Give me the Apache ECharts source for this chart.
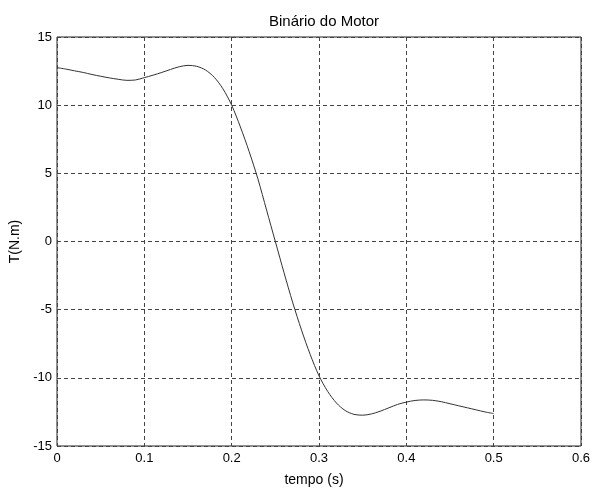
<!DOCTYPE html>
<html>
<head>
<meta charset="utf-8">
<script src="https://cdn.jsdelivr.net/npm/echarts@6/dist/echarts.min.js"></script>
<style>
  html, body { margin: 0; padding: 0; background: #fff; }
  #chart { width: 593px; height: 488px; }
</style>
</head>
<body>
<div id="chart"></div>
<script>
// Motor torque over time
const tempo = [0.00, 0.01, 0.02, 0.03, 0.04, 0.05, 0.06, 0.07, 0.08, 0.09,
               0.10, 0.11, 0.12, 0.13, 0.14, 0.15, 0.16, 0.17, 0.18, 0.19,
               0.20, 0.21, 0.22, 0.23, 0.24, 0.25, 0.26, 0.27, 0.28, 0.29,
               0.30, 0.31, 0.32, 0.33, 0.34, 0.35, 0.36, 0.37, 0.38, 0.39,
               0.40, 0.41, 0.42, 0.43, 0.44, 0.45, 0.46, 0.47, 0.48, 0.49, 0.50];
const binario = [12.75, 12.65, 12.52, 12.40, 12.25, 12.12, 12.00, 11.90, 11.82, 11.85,
                 12.02, 12.20, 12.40, 12.62, 12.82, 12.92, 12.85, 12.58, 12.05, 11.20,
                 10.00, 8.40, 6.60, 4.60, 2.30, 0.00, -2.30, -4.50, -6.50, -8.30,
                 -9.85, -11.00, -11.85, -12.40, -12.68, -12.74, -12.65, -12.45, -12.20, -11.95,
                 -11.78, -11.66, -11.62, -11.65, -11.75, -11.90, -12.05, -12.20, -12.35, -12.50, -12.62];

const xTicks = [0, 0.1, 0.2, 0.3, 0.4, 0.5, 0.6];
const yTicks = [-15, -10, -5, 0, 5, 10, 15];

const chart = echarts.init(document.getElementById('chart'), null, { renderer: 'canvas' });
const font = 'Liberation Sans, Arial, sans-serif';
const gridLine = { show: true, lineStyle: { color: '#444', type: [4, 3], width: 1 } };

chart.setOption({
  animation: false,
  backgroundColor: '#fff',
  title: {
    text: 'Binário do Motor',
    left: 319, top: 9, textAlign: 'center',
    textStyle: { fontFamily: font, fontSize: 15, fontWeight: 'normal', color: '#000' }
  },
  grid: {
    left: 57, top: 37, right: 12, bottom: 42,
    outerBoundsMode: 'none', containLabel: false,
    show: true, borderColor: '#222', borderWidth: 1
  },
  xAxis: {
    type: 'value', min: 0, max: 0.6, interval: 0.1,
    name: 'tempo (s)', nameLocation: 'middle', nameGap: 27,
    nameTextStyle: { fontFamily: font, fontSize: 14, color: '#000', padding: [0, 10, 0, 0] },
    axisLine: { show: false },
    axisTick: { show: false },
    splitLine: gridLine,
    axisLabel: {
      fontFamily: font, fontSize: 13, color: '#000', margin: 6,
      formatter: v => { const t = xTicks.find(k => Math.abs(k - v) < 1e-9); return t === undefined ? '' : String(t); }
    }
  },
  yAxis: {
    type: 'value', min: -15, max: 15, interval: 5,
    name: 'T(N.m)', nameLocation: 'middle', nameGap: 33, nameRotate: 90,
    nameTextStyle: { fontFamily: font, fontSize: 14, color: '#000' },
    axisLine: { show: false },
    axisTick: { show: false },
    splitLine: gridLine,
    axisLabel: {
      fontFamily: font, fontSize: 13, color: '#000', margin: 5,
      formatter: v => { const t = yTicks.find(k => Math.abs(k - v) < 1e-9); return t === undefined ? '' : String(t); }
    }
  },
  series: [{
    type: 'line',
    data: tempo.map((t, i) => [t, binario[i]]),
    smooth: 0.3,
    showSymbol: false,
    lineStyle: { color: '#333', width: 1 }
  }]
});
</script>
</body>
</html>
